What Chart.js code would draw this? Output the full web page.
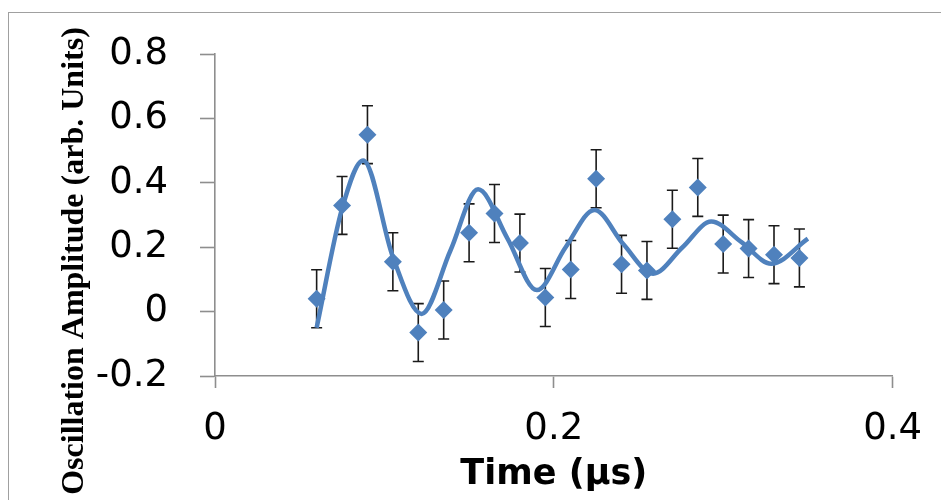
<!DOCTYPE html>
<html>
<head>
<meta charset="utf-8">
<style>
  html, body { margin: 0; padding: 0; background: #fff; }
  #grafico { display: block; }
</style>
<script src="https://cdn.jsdelivr.net/npm/chart.js@4.4.1/dist/chart.umd.min.js"></script>
</head>
<body>
<canvas id="grafico" width="941" height="500"></canvas>
<script>
// measured points
const tempos = [0.06, 0.075, 0.09, 0.105, 0.12, 0.135, 0.15, 0.165, 0.18, 0.195,
  0.21, 0.225, 0.24, 0.255, 0.27, 0.285, 0.3, 0.315, 0.33, 0.345];
const amplitudes = [0.04, 0.33, 0.55, 0.155, -0.065, 0.005, 0.245, 0.305, 0.213, 0.044,
  0.131, 0.413, 0.147, 0.128, 0.287, 0.386, 0.21, 0.196, 0.177, 0.167];
const erros = [0.09, 0.09, 0.09, 0.09, 0.09, 0.09, 0.09, 0.09, 0.09, 0.09,
  0.09, 0.09, 0.09, 0.09, 0.09, 0.09, 0.09, 0.09, 0.09, 0.09];

// fitted damped oscillation
const ajusteTempo = [0.06, 0.075, 0.0875, 0.105, 0.122, 0.139, 0.1553, 0.1726, 0.19,
  0.207, 0.224, 0.241, 0.2586, 0.276, 0.293, 0.311, 0.3284, 0.35];
const ajusteValor = [-0.05, 0.32, 0.47, 0.17, -0.007, 0.19, 0.38, 0.228, 0.067,
  0.2, 0.316, 0.21, 0.118, 0.2, 0.28, 0.215, 0.149, 0.227];

// axis ticks
const ticksX = [0, 0.2, 0.4];
const ticksY = [-0.2, 0, 0.2, 0.4, 0.6, 0.8];

const tituloY = 'Oscillation Amplitude (arb. Units)';
const tituloX = 'Time (\u00b5s)';

const azul = '#4f81bd';
const cinzaEixo = '#8e8e8e';

// outer frame of the figure
const molduraPlugin = {
  id: 'moldura',
  beforeDraw(chart) {
    const ctx = chart.ctx;
    ctx.save();
    ctx.strokeStyle = '#a0a0a0';
    ctx.lineWidth = 1;
    ctx.strokeRect(8.5, 12.5, 1000, 1000);
    ctx.restore();
  }
};

// y title sits lower than the plot centre, so it is drawn by hand
const tituloYPlugin = {
  id: 'tituloY',
  afterDraw(chart) {
    const ctx = chart.ctx;
    ctx.save();
    ctx.translate(83, 261);
    ctx.rotate(-Math.PI / 2);
    ctx.font = 'bold 32px "Liberation Serif"';
    ctx.fillStyle = '#000';
    ctx.textAlign = 'center';
    ctx.textBaseline = 'alphabetic';
    ctx.fillText(tituloY, 0, 0);
    ctx.restore();
  }
};

// vertical error bars with caps
const barrasErroPlugin = {
  id: 'barrasErro',
  beforeDatasetsDraw(chart) {
    const ctx = chart.ctx;
    const x = chart.scales.x;
    const y = chart.scales.y;
    ctx.save();
    ctx.strokeStyle = '#1a1a1a';
    ctx.lineWidth = 1.6;
    tempos.forEach((t, i) => {
      const px = x.getPixelForValue(t);
      const topo = y.getPixelForValue(amplitudes[i] + erros[i]);
      const base = y.getPixelForValue(amplitudes[i] - erros[i]);
      ctx.beginPath();
      ctx.moveTo(px, topo);
      ctx.lineTo(px, base);
      ctx.moveTo(px - 5.5, topo);
      ctx.lineTo(px + 5.5, topo);
      ctx.moveTo(px - 5.5, base);
      ctx.lineTo(px + 5.5, base);
      ctx.stroke();
    });
    ctx.restore();
  }
};

function montarGrafico() {
  const ctx = document.getElementById('grafico').getContext('2d');

  new Chart(ctx, {
    type: 'scatter',
    data: {
      datasets: [{
        label: 'Data',
        data: tempos.map((t, i) => ({ x: t, y: amplitudes[i] })),
        pointStyle: 'rectRot',
        pointRadius: 9,
        pointBackgroundColor: azul,
        pointBorderWidth: 0,
        showLine: false,
        order: 1
      }, {
        label: 'Fit',
        data: ajusteTempo.map((t, i) => ({ x: t, y: ajusteValor[i] })),
        showLine: true,
        borderColor: azul,
        borderWidth: 4.5,
        pointRadius: 0,
        cubicInterpolationMode: 'monotone',
        order: 2
      }]
    },
    options: {
      responsive: false,
      animation: false,
      layout: { padding: { top: 51, right: 48, left: 0, bottom: 0 } },
      plugins: {
        legend: { display: false },
        tooltip: { enabled: false }
      },
      scales: {
        x: {
          type: 'linear',
          min: 0,
          max: 0.4,
          afterFit: (s) => { s.height = 124; },
          afterBuildTicks: (s) => { s.ticks = ticksX.map(v => ({ value: v })); },
          border: { color: cinzaEixo, width: 1.6 },
          grid: { drawOnChartArea: false, tickLength: 12, tickColor: cinzaEixo, tickWidth: 1.6 },
          ticks: {
            color: '#000',
            padding: 19,
            maxRotation: 0,
            font: { family: 'DejaVu Sans', size: 37 },
            callback: (v) => String(Number(v.toFixed(1)))
          },
          title: {
            display: true,
            text: tituloX,
            color: '#000',
            font: { family: 'DejaVu Sans', size: 35, weight: 'bold' },
            padding: { top: 0, bottom: 4 }
          }
        },
        y: {
          type: 'linear',
          min: -0.2,
          max: 0.8,
          afterFit: (s) => { s.width = 215; },
          afterBuildTicks: (s) => { s.ticks = ticksY.map(v => ({ value: v })); },
          border: { color: cinzaEixo, width: 1.6 },
          grid: { drawOnChartArea: false, tickLength: 15, tickColor: cinzaEixo, tickWidth: 1.6 },
          ticks: {
            color: '#000',
            padding: 32,
            font: { family: 'DejaVu Sans', size: 37 },
            callback: (v) => String(Number(v.toFixed(1)))
          }
        }
      }
    },
    plugins: [molduraPlugin, barrasErroPlugin, tituloYPlugin]
  });
}

document.addEventListener('DOMContentLoaded', montarGrafico);
</script>
</body>
</html>
